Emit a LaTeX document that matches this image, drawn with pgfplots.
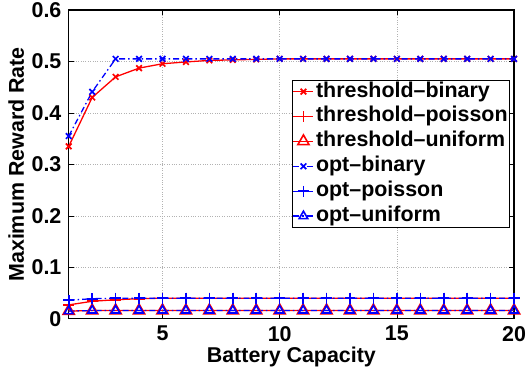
\documentclass[border=0pt]{standalone}
\usepackage{fontspec}
\setmainfont{Liberation Sans}
\usepackage{pgfplots}
\pgfplotsset{compat=1.18}
\newcommand{\ff}{\fontsize{21.5}{24}\selectfont\bfseries}
\begin{document}
\ff
\begin{tikzpicture}
\begin{axis}[
  name=ax,
  scale only axis,
  width=447pt, height=310pt,
  xmin=1, xmax=20, ymin=0, ymax=0.6,
  xtick={5,10,15,20},
  ytick={0,0.1,0.2,0.3,0.4,0.5,0.6},
  yticklabels={0,0.1,0.2,0.3,0.4,0.5,0.6},
  tick align=inside,
  major tick length=5pt,
  tick style={black, line width=0.6pt},
  axis line style={line width=1.2pt},
  grid=major,
  grid style={dotted, gray!60, line width=0.6pt},
  /pgf/number format/assume math mode=true,
  ticklabel style={font=\ff},
  xticklabel style={inner xsep=0pt},
  label style={font=\ff},
  xlabel={Battery Capacity},
  ylabel={Maximum Reward Rate},
  xlabel style={yshift=9pt},
  ylabel style={yshift=-7pt},
  legend cell align=left,
  legend style={at={(0.991,0.774)}, anchor=north east, font=\ff,
    draw=black, line width=0.8pt, inner sep=0pt, row sep=2pt,
    nodes={inner sep=2pt, text height=15pt, text depth=4pt}},
  legend image code/.code={
    \draw[mark repeat=2,mark phase=2,#1] plot coordinates {(0pt,0pt) (10pt,0pt) (20pt,0pt)};
  },
]
% threshold series (red solid)
\addplot[red, line width=1.3pt, mark=x, mark size=4pt, mark options={solid, draw=red, line width=1.7pt}] coordinates {
(1,0.335)(2,0.430)(3,0.470)(4,0.487)(5,0.4955)(6,0.499)(7,0.502)(8,0.503)(9,0.504)(10,0.505)
(11,0.505)(12,0.505)(13,0.505)(14,0.505)(15,0.505)(16,0.505)(17,0.505)(18,0.505)(19,0.505)(20,0.505)};
\addlegendentry{threshold--binary}
\addplot[red, line width=1.3pt, mark=+, mark size=5.5pt, mark options={solid, draw=red, line width=1.6pt}] coordinates {
(1,0.027)(2,0.034)(3,0.037)(4,0.039)(5,0.040)(6,0.040)(7,0.040)(8,0.040)(9,0.040)(10,0.040)
(11,0.040)(12,0.040)(13,0.040)(14,0.040)(15,0.040)(16,0.040)(17,0.040)(18,0.040)(19,0.040)(20,0.040)};
\addlegendentry{threshold--poisson}
\addplot[red, line width=1.3pt, mark=triangle, mark size=6.5pt, mark options={solid, draw=red, line width=1.6pt}] coordinates {
(1,0.015)(2,0.016)(3,0.016)(4,0.016)(5,0.016)(6,0.016)(7,0.016)(8,0.016)(9,0.016)(10,0.016)
(11,0.016)(12,0.016)(13,0.016)(14,0.016)(15,0.016)(16,0.016)(17,0.016)(18,0.016)(19,0.016)(20,0.016)};
\addlegendentry{threshold--uniform}
% opt series (blue dash-dot)
\addplot[blue, line width=1.3pt, dash pattern=on 6pt off 3pt on 1.5pt off 3pt, mark=x, mark size=4pt, mark options={solid, draw=blue, line width=1.7pt}] coordinates {
(1,0.355)(2,0.441)(3,0.505)(4,0.505)(5,0.505)(6,0.505)(7,0.505)(8,0.505)(9,0.505)(10,0.505)
(11,0.505)(12,0.505)(13,0.505)(14,0.505)(15,0.505)(16,0.505)(17,0.505)(18,0.505)(19,0.505)(20,0.505)};
\addlegendentry{opt--binary}
\addplot[blue, line width=1.3pt, dash pattern=on 6pt off 3pt on 1.5pt off 3pt, mark=+, mark size=5.5pt, mark options={solid, draw=blue, line width=1.6pt}] coordinates {
(1,0.036)(2,0.039)(3,0.040)(4,0.040)(5,0.040)(6,0.040)(7,0.040)(8,0.040)(9,0.040)(10,0.040)
(11,0.040)(12,0.040)(13,0.040)(14,0.040)(15,0.040)(16,0.040)(17,0.040)(18,0.040)(19,0.040)(20,0.040)};
\addlegendentry{opt--poisson}
\addplot[blue, line width=1.3pt, dash pattern=on 6pt off 3pt on 1.5pt off 3pt, mark=triangle, mark size=5pt, mark options={solid, draw=blue, line width=1.6pt}] coordinates {
(1,0.015)(2,0.016)(3,0.016)(4,0.016)(5,0.016)(6,0.016)(7,0.016)(8,0.016)(9,0.016)(10,0.016)
(11,0.016)(12,0.016)(13,0.016)(14,0.016)(15,0.016)(16,0.016)(17,0.016)(18,0.016)(19,0.016)(20,0.016)};
\addlegendentry{opt--uniform}
\end{axis}
\pgfresetboundingbox
\path[use as bounding box] ([xshift=-69pt,yshift=-49pt]ax.south west) rectangle ([xshift=12pt,yshift=10pt]ax.north east);
\end{tikzpicture}
\end{document}
